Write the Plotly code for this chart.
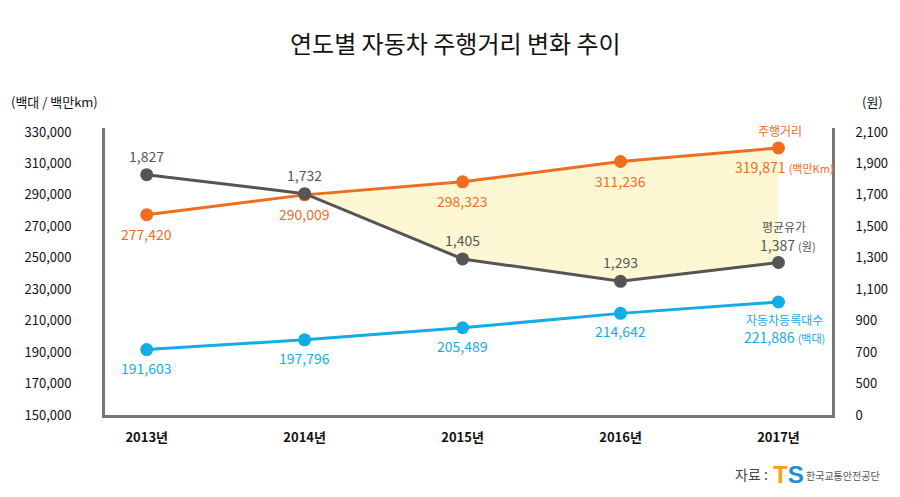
import plotly.graph_objects as go

years = ["2013년", "2014년", "2015년", "2016년", "2017년"]
mileage = [277420, 290009, 298323, 311236, 319871]      # 백만km (left)
vehicles = [191603, 197796, 205489, 214642, 221886]     # 백대 (left)
fuel = [1827, 1732, 1405, 1293, 1387]                   # 원 (right)
left_ticks = [150000, 170000, 190000, 210000, 230000, 250000, 270000, 290000, 310000, 330000]
right_tickvals = [300, 500, 700, 900, 1100, 1300, 1500, 1700, 1900, 2100]
right_ticktext = ["0", "500", "700", "900", "1,100", "1,300", "1,500", "1,700", "1,900", "2,100"]

ORANGE = "#ef6d1f"
GRAY = "#555555"
BLUE = "#13ace6"
FILL = "#fdf8d3"
FONT = "Noto Sans CJK KR"

xs = list(range(len(years)))
yl = [150000, 332544]
yr = [(v - 120000) / 100 for v in yl]
y3r = [623, 2061]   # scale on which the fuel line is drawn in the original

def to_left(v):
    return yl[0] + (v - y3r[0]) / (y3r[1] - y3r[0]) * (yl[1] - yl[0])

# yellow fill between mileage (above) and fuel (below), starting at crossing
g = [to_left(v) for v in fuel]
i = 1
d0 = g[i] - mileage[i]
d1 = g[i + 1] - mileage[i + 1]
t = d0 / (d0 - d1)
cx = xs[i] + t
cy = mileage[i] + t * (mileage[i + 1] - mileage[i])
px = [cx] + xs[2:] + xs[2:][::-1] + [cx]
py = [cy] + mileage[2:] + g[2:][::-1] + [cy]

fig = go.Figure()
fig.add_trace(go.Scatter(x=px, y=py, fill="toself", fillcolor=FILL, mode="none",
                         hoverinfo="skip", showlegend=False))
# invisible trace so the right (원) axis is drawn
fig.add_trace(go.Scatter(x=xs, y=fuel, yaxis="y2", mode="lines", opacity=0,
                         line=dict(width=0), hoverinfo="skip", showlegend=False))
fig.add_trace(go.Scatter(x=xs, y=mileage, mode="lines+markers",
                         line=dict(color=ORANGE, width=3), marker=dict(size=13, color=ORANGE),
                         showlegend=False))
fig.add_trace(go.Scatter(x=xs, y=vehicles, mode="lines+markers",
                         line=dict(color=BLUE, width=3), marker=dict(size=13, color=BLUE),
                         showlegend=False))
fig.add_trace(go.Scatter(x=xs, y=fuel, mode="lines+markers", yaxis="y3",
                         line=dict(color=GRAY, width=3), marker=dict(size=13, color=GRAY),
                         showlegend=False))

ann = []
def lab(x, y, text, color, shift, yref="y", size=14, xshift=0):
    ann.append(dict(x=x, y=y, xref="x", yref=yref, text=text, showarrow=False,
                    yshift=shift, xshift=xshift, font=dict(family=FONT, size=size, color=color)))

for k in range(4):
    lab(xs[k], mileage[k], f"{mileage[k]:,}", ORANGE, -19)
    lab(xs[k], vehicles[k], f"{vehicles[k]:,}", BLUE, -18)
    lab(xs[k], fuel[k], f"{fuel[k]:,}", GRAY, 19, yref="y3")

small = lambda s: f"<span style='font-size:11px'>{s}</span>"
lab(4, mileage[4], "주행거리", ORANGE, 17, size=12, xshift=2)
lab(4, mileage[4], f"{mileage[4]:,} " + small("(백만Km)"), ORANGE, -19, xshift=6)
lab(4, fuel[4], "평균유가", GRAY, 36, yref="y3", size=12, xshift=6)
lab(4, fuel[4], f"{fuel[4]:,} " + small("(원)"), GRAY, 18, yref="y3", xshift=10)
lab(4, vehicles[4], "자동차등록대수", BLUE, -18, size=12, xshift=6)
lab(4, vehicles[4], f"{vehicles[4]:,} " + small("(백대)"), BLUE, -35, xshift=6)

page = [
    dict(x=458, y=42, text="연도별 자동차 주행거리 변화 추이", xanchor="center",
         font=dict(family=FONT, size=24, color="#111111")),
    dict(x=8, y=101, text="(백대 / 백만km)", xanchor="left",
         font=dict(family=FONT, size=13, color="#111111")),
    dict(x=866, y=101, text="(원)", xanchor="left",
         font=dict(family=FONT, size=13, color="#111111")),
    dict(x=775, y=474, text="자료 :", xanchor="right",
         font=dict(family=FONT, size=14, color="#444444")),
    dict(x=777, y=474, text="<b><span style='color:#f5a30a'>T</span><span style='color:#1a8fd8'>S</span></b>",
         xanchor="left", font=dict(family="Liberation Sans", size=24)),
    dict(x=810, y=475, text="한국교통안전공단", xanchor="left",
         font=dict(family=FONT, size=10, color="#555555")),
]
W, H = 900, 497
L, R, T, B = 105, 62, 128, 82
pw, ph = W - L - R, H - T - B
for a in page:
    a.update(xref="paper", yref="paper", yanchor="middle", showarrow=False,
             x=(a["x"] - L) / pw, y=(H - B - a["y"]) / ph)
ann += page

fig.update_layout(
    width=W, height=H, margin=dict(l=L, r=R, t=T, b=B),
    paper_bgcolor="white", plot_bgcolor="white",
    font=dict(family=FONT, size=13, color="#111111"),
    annotations=ann,
    xaxis=dict(range=[-0.264, 4.339], tickvals=xs, ticktext=years, showgrid=False, zeroline=False,
               showline=True, linecolor="#777777", linewidth=3, ticks="",
               tickfont=dict(family=FONT, size=13, color="#111111", weight="bold"), ticklabelstandoff=8),
    yaxis=dict(range=yl, tickvals=left_ticks, tickformat=",", showgrid=False, zeroline=False,
               showline=True, linecolor="#777777", linewidth=3, ticks="",
               tickfont=dict(family=FONT, size=13, color="#111111"), ticklabelstandoff=28),
    yaxis2=dict(range=yr, overlaying="y", side="right", tickvals=right_tickvals, ticktext=right_ticktext,
                showgrid=False, zeroline=False, showline=True, linecolor="#777777", linewidth=3,
                ticks="", tickfont=dict(family=FONT, size=13, color="#111111"), ticklabelstandoff=18),
    yaxis3=dict(range=y3r, overlaying="y", visible=False),
)
fig.write_html("out.html")
